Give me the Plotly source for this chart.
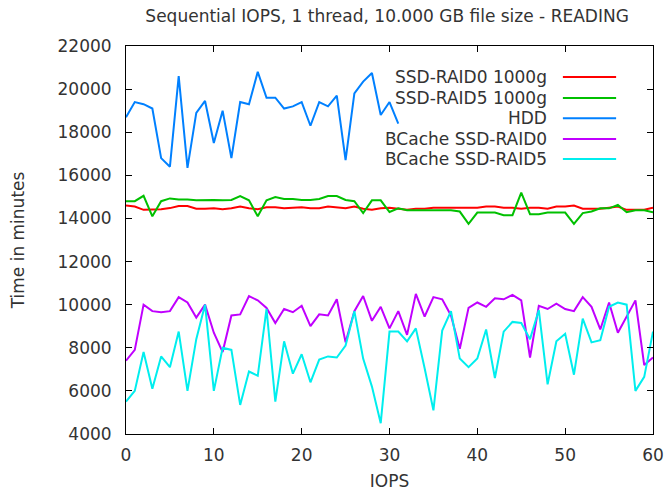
import plotly.graph_objects as go

# IOPS sample index on the x axis
iops_full = list(range(0, 61))
iops_hdd = list(range(0, 32))

series_names = [
    "SSD-RAID0 1000g",
    "SSD-RAID5 1000g",
    "HDD",
    "BCache SSD-RAID0",
    "BCache SSD-RAID5",
]
series_colors = ["#ff0000", "#00c000", "#0080ff", "#c000ff", "#00eeee"]

ssd_raid0 = [14600, 14550, 14400, 14400, 14430, 14480, 14580, 14580, 14450, 14450,
             14470, 14430, 14470, 14550, 14470, 14430, 14520, 14520, 14470, 14500,
             14520, 14470, 14470, 14550, 14500, 14470, 14550, 14450, 14400, 14470,
             14500, 14450, 14400, 14450, 14450, 14500, 14500, 14500, 14500, 14500,
             14500, 14550, 14550, 14500, 14500, 14450, 14500, 14500, 14450, 14550,
             14550, 14600, 14450, 14450, 14450, 14500, 14550, 14400, 14400, 14400,
             14500]

ssd_raid5 = [14800, 14800, 15050, 14100, 14800, 14930, 14880, 14880, 14840, 14860,
             14860, 14840, 14860, 15040, 14840, 14100, 14840, 14990, 14900, 14900,
             14860, 14860, 14900, 15040, 15040, 14860, 14800, 14250, 14840, 14840,
             14300, 14470, 14380, 14380, 14380, 14380, 14380, 14380, 14320, 13750,
             14270, 14270, 14270, 14150, 14150, 15200, 14200, 14200, 14270, 14270,
             14270, 13750, 14250, 14320, 14470, 14470, 14630, 14290, 14380, 14380,
             14290]

hdd = [18700, 19400, 19300, 19100, 16800, 16400, 20600, 16350, 18900, 19450,
       17500, 19000, 16800, 19400, 19300, 20800, 19600, 19600, 19100, 19200,
       19400, 18300, 19400, 19200, 19700, 16700, 19800, 20350, 20750, 18800,
       19400, 18400]

bcache_raid0 = [7400, 7900, 10000, 9700, 9650, 9700, 10350, 10100, 9400, 10000,
                8700, 7800, 9500, 9550, 10400, 10200, 9850, 9150, 9800, 9650,
                9950, 9000, 9550, 9500, 10250, 8250, 9700, 10400, 9250, 9900,
                8900, 9700, 8600, 10500, 9450, 10350, 10250, 9500, 7950, 9850,
                10100, 9900, 10300, 10250, 10450, 10200, 7550, 9950, 9800, 10050,
                9800, 9700, 10350, 9900, 8850, 10100, 8700, 9440, 10200, 7200,
                7550]

bcache_raid5 = [5500, 6000, 7800, 6100, 7600, 7100, 8750, 6000, 8400, 10000,
                6000, 8000, 7900, 5350, 6900, 6700, 9800, 5500, 8300, 6800,
                7700, 6400, 7450, 7600, 7550, 8100, 9700, 7500, 6200, 4500,
                8750, 8750, 8300, 8900, 7050, 5100, 8800, 9700, 7500, 7100,
                7500, 8850, 6600, 8750, 9200, 9150, 8400, 9750, 6300, 8300,
                8650, 6750, 9350, 8250, 8350, 9900, 10100, 10000, 6000, 6650,
                8750]

x_ticks = [0, 10, 20, 30, 40, 50, 60]
y_ticks = [4000, 6000, 8000, 10000, 12000, 14000, 16000, 18000, 20000, 22000]

xs = [iops_full, iops_full, iops_hdd, iops_full, iops_full]
ys = [ssd_raid0, ssd_raid5, hdd, bcache_raid0, bcache_raid5]

FONT = "DejaVu Sans"
TEXT = "#333333"
FS = 17

fig = go.Figure()
for name, color, x, y in zip(series_names, series_colors, xs, ys):
    fig.add_trace(go.Scatter(x=x, y=y, mode="lines", name=name,
                             line=dict(color=color, width=2),
                             showlegend=False))

# gnuplot-style key: right-aligned labels followed by a line sample
key_text_x = 0.802
key_line_x0, key_line_x1 = 0.829, 0.930
key_rows = [0.920, 0.866, 0.814, 0.760, 0.709]
for name, color, ky in zip(series_names, series_colors, key_rows):
    fig.add_annotation(x=key_text_x, y=ky, xref="paper", yref="paper",
                       text=name, showarrow=False, xanchor="right", yanchor="middle",
                       font=dict(family=FONT, size=FS, color=TEXT))
    fig.add_shape(type="line", xref="paper", yref="paper",
                  x0=key_line_x0, x1=key_line_x1, y0=ky, y1=ky,
                  line=dict(color=color, width=2))

axis_common = dict(
    showline=True, linecolor="#000000", linewidth=1, mirror="ticks",
    ticks="inside", ticklen=6, tickcolor="#000000", tickwidth=1,
    showgrid=False, zeroline=False, automargin=False,
    tickfont=dict(family=FONT, size=FS, color=TEXT),
)

fig.update_layout(
    width=664, height=491,
    margin=dict(l=126, r=11, t=46, b=57),
    paper_bgcolor="white", plot_bgcolor="white",
    showlegend=False,
    title=dict(text="Sequential IOPS, 1 thread, 10.000 GB file size - READING",
               x=0.583, xanchor="center", y=0.968, yanchor="middle",
               font=dict(family=FONT, size=FS, color=TEXT)),
    xaxis=dict(range=[0, 60], tickvals=x_ticks, ticklabelstandoff=6,
               title=dict(text="IOPS", standoff=10,
                          font=dict(family=FONT, size=FS, color=TEXT)),
               **axis_common),
    yaxis=dict(range=[4000, 22000], tickvals=y_ticks, tickformat="d",
               ticklabelstandoff=10,
               title=dict(text="Time in minutes", standoff=28,
                          font=dict(family=FONT, size=FS, color=TEXT)),
               **axis_common),
)

fig.write_html("out.html")
